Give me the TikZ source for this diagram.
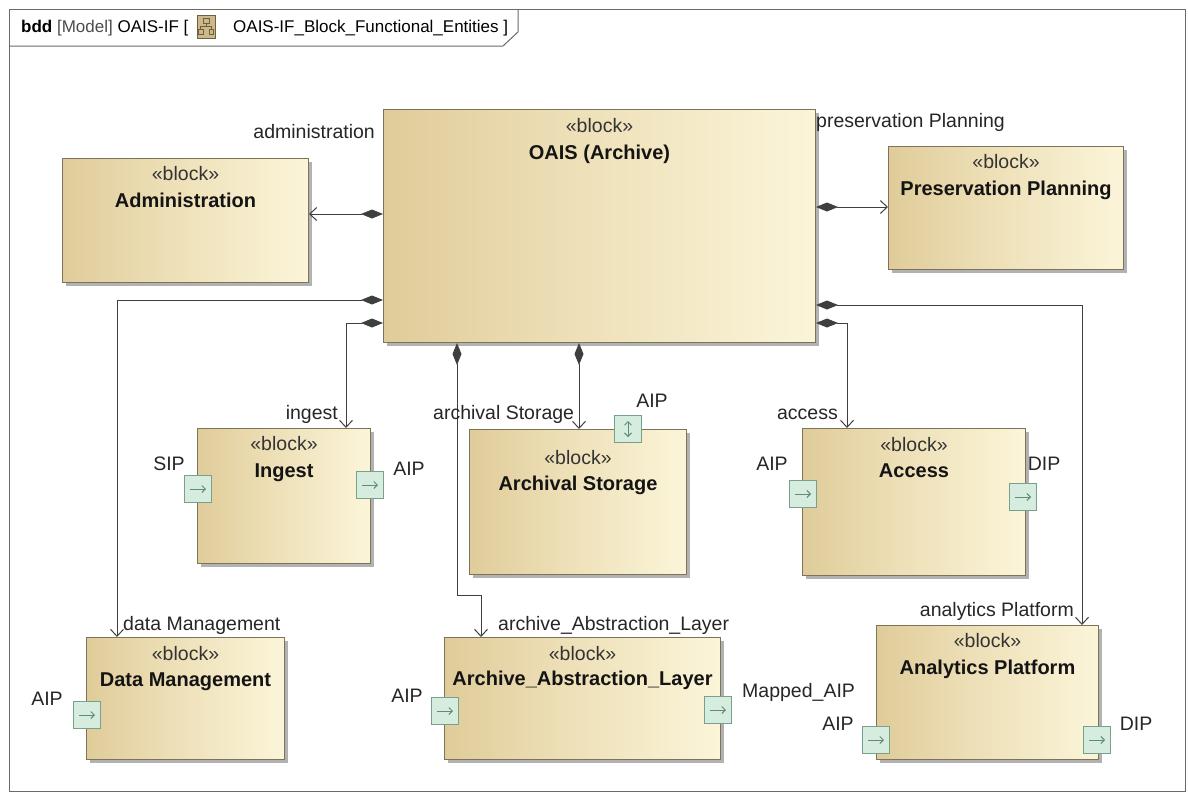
\documentclass[tikz,border=0pt]{standalone}
\usepackage{fontspec}
\setmainfont{Liberation Sans}
\usetikzlibrary{arrows.meta,shadows,calc}
\definecolor{bTan}{HTML}{E0CC9A}
\definecolor{bCream}{HTML}{FBF5D9}
\definecolor{bMid}{HTML}{EFE2BB}
\definecolor{bEdge}{HTML}{7D7358}
\definecolor{pFill}{HTML}{D5ECDF}
\definecolor{pEdge}{HTML}{78A18B}
\definecolor{pArr}{HTML}{5F8C75}
\definecolor{lnCol}{HTML}{3F3F3F}
\definecolor{frCol}{HTML}{6A6A6A}
\definecolor{icoFill}{HTML}{CDB88A}
\definecolor{icoEdge}{HTML}{6E5F40}
\tikzset{
 blk/.style={draw=bEdge, line width=1pt, left color=bTan, right color=bCream, middle color=bMid,
   drop shadow={shadow xshift=3pt,shadow yshift=-3pt,fill=black!30,opacity=1}, anchor=north west, inner sep=0pt},
 stereo/.style={font=\fontsize{19.5}{22}\selectfont, text=black!80, inner sep=0pt, anchor=base},
 bname/.style={font=\fontsize{20}{22}\selectfont\bfseries, text=black!92, inner sep=0pt, anchor=base},
 lbl/.style={font=\fontsize{19.5}{22}\selectfont, text=black!85, inner sep=0pt},
 port/.style={draw=pEdge, fill=pFill, line width=1pt, minimum size=27pt, inner sep=0pt},
 parr/.style={draw=pArr, line width=1pt, -{Straight Barb[length=3.5pt,width=7pt]}},
 comp/.style={draw=lnCol, line width=1pt, {Diamond[length=22pt,width=9pt,fill=lnCol]}-{Straight Barb[length=7pt,width=13pt]}},
 hdr/.style={font=\fontsize{17}{20}\selectfont, inner sep=0pt, anchor=base west},
}
\begin{document}
\begin{tikzpicture}[x=1pt,y=-1pt]
\useasboundingbox (0,0) rectangle (1188,793);
% frame
\draw[draw=frCol, line width=1pt] (9,9) rectangle (1185,791);
\draw[draw=frCol, line width=1pt] (9,46) -- (503,46) -- (518,32) -- (518,9);
\node[hdr] (hdr1) at (21,32) {\textbf{bdd} \textcolor{black!70}{[Model]} OAIS-IF [};
\draw[draw=icoEdge, fill=icoFill, line width=0.8pt] (197,15) rectangle (215,38);
\draw[draw=icoEdge, line width=0.8pt] (203,18) rectangle (209,23) (206,23) -- (206,26) (200.5,26) -- (211.5,26) (200.5,26) -- (200.5,29) (211.5,26) -- (211.5,29) (198.5,29) rectangle (203,34) (209,29) rectangle (213.5,34);
\node[hdr] (hdr2) at (233,32) {OAIS-IF\_Block\_Functional\_Entities ]};

% blocks
\node[blk, minimum width=432pt, minimum height=233pt] (oais) at (383,109) {};
\node[stereo] (oaisS) at ($(oais.north)+(0,23)$) {«block»};
\node[bname] (oaisN) at ($(oais.north)+(0,50)$) {OAIS (Archive)};

\node[blk, minimum width=246pt, minimum height=124pt] (admin) at (62,158) {};
\node[stereo] (adminS) at ($(admin.north)+(0,22)$) {«block»};
\node[bname] (adminN) at ($(admin.north)+(0,49)$) {Administration};

\node[blk, minimum width=235pt, minimum height=123pt] (pp) at (888,146) {};
\node[stereo] (ppS) at ($(pp.north)+(0,22)$) {«block»};
\node[bname] (ppN) at ($(pp.north)+(0,49)$) {Preservation Planning};

\node[blk, minimum width=173pt, minimum height=135pt] (ing) at (197,428) {};
\node[stereo] (ingS) at ($(ing.north)+(0,22)$) {«block»};
\node[bname] (ingN) at ($(ing.north)+(0,49)$) {Ingest};

\node[blk, minimum width=217pt, minimum height=145pt] (as) at (469,429) {};
\node[stereo] (asS) at ($(as.north)+(0,35)$) {«block»};
\node[bname] (asN) at ($(as.north)+(0,61)$) {Archival Storage};

\node[blk, minimum width=223pt, minimum height=147pt] (acc) at (802,428) {};
\node[stereo] (accS) at ($(acc.north)+(0,23)$) {«block»};
\node[bname] (accN) at ($(acc.north)+(0,49)$) {Access};

\node[blk, minimum width=198pt, minimum height=122pt] (dm) at (86,637) {};
\node[stereo] (dmS) at ($(dm.north)+(0,23)$) {«block»};
\node[bname] (dmN) at ($(dm.north)+(0,49)$) {Data Management};

\node[blk, minimum width=276pt, minimum height=122pt] (aal) at (444,637) {};
\node[stereo] (aalS) at ($(aal.north)+(0,23)$) {«block»};
\node[bname] (aalN) at ($(aal.north)+(0,48)$) {Archive\_Abstraction\_Layer};

\node[blk, minimum width=222pt, minimum height=134pt] (ap) at (876,625) {};
\node[stereo] (apS) at ($(ap.north)+(0,22)$) {«block»};
\node[bname] (apN) at ($(ap.north)+(0,49)$) {Analytics Platform};

% connectors
\coordinate (yAdm) at (0,214);
\draw[comp] (oais.west |- yAdm) -- (admin.east |- yAdm);
\coordinate (yPP) at (0,207);
\draw[comp] (oais.east |- yPP) -- (pp.west |- yPP);
\coordinate (yDM) at (0,300);
\coordinate (xDM) at ([xshift=31pt]dm.north west);
\draw[comp] (oais.west |- yDM) -| (xDM);
\coordinate (yIng) at (0,323);
\coordinate (xIng) at ([xshift=149pt]ing.north west);
\draw[comp] (oais.west |- yIng) -| (xIng);
\coordinate (xAS) at (579,0);
\draw[comp] (oais.south -| xAS) -- (as.north -| xAS);
\coordinate (yAcc) at (0,323);
\coordinate (xAcc) at ([xshift=45pt]acc.north west);
\draw[comp] (oais.east |- yAcc) -| (xAcc);
\coordinate (yAP) at (0,305);
\coordinate (xAP) at ([xshift=-17pt]ap.north east);
\draw[comp] (oais.east |- yAP) -| (xAP);
\coordinate (xAALa) at (457,0);
\coordinate (yJog) at (0,595);
\coordinate (xAAL) at ([xshift=37pt]aal.north west);
\draw[comp] (oais.south -| xAALa) -- (xAALa |- yJog) -| (xAAL);

% role labels
\node[lbl, anchor=base east] (lAdm) at (375,138) {administration};
\node[lbl, anchor=base west] (lPP) at (816,127) {preservation Planning};
\node[lbl, anchor=base east] (lIng) at (338,419) {ingest};
\node[lbl, anchor=base west] (lAS) at (433,419) {archival Storage};
\node[lbl, anchor=base east] (lAcc) at (838,419) {access};
\node[lbl, anchor=base west] (lDM) at (123,630) {data Management};
\node[lbl, anchor=base west] (lAAL) at (498,630) {archive\_Abstraction\_Layer};
\node[lbl, anchor=base east] (lAP) at (1074,616) {analytics Platform};

% ports
\node[port] (pIngSIP) at (198,489) {};
\draw[parr] ([xshift=-8pt]pIngSIP.center) -- ([xshift=8pt]pIngSIP.center);
\node[lbl, anchor=base] (lIngSIP) at (169,470) {SIP};
\node[port] (pIngAIP) at (370,485) {};
\draw[parr] ([xshift=-8pt]pIngAIP.center) -- ([xshift=8pt]pIngAIP.center);
\node[lbl, anchor=base] (lIngAIP) at (409,475) {AIP};

\node[port] (pAS) at (628,429) {};
\draw[draw=pArr, line width=1pt, {Straight Barb[length=3.5pt,width=7pt]}-{Straight Barb[length=3.5pt,width=7pt]}] ([yshift=-8pt]pAS.center) -- ([yshift=8pt]pAS.center);
\node[lbl, anchor=base] (lASp) at (652,407) {AIP};

\node[port] (pAccAIP) at (803,494) {};
\draw[parr] ([xshift=-8pt]pAccAIP.center) -- ([xshift=8pt]pAccAIP.center);
\node[lbl, anchor=base] (lAccAIP) at (772,470) {AIP};
\node[port] (pAccDIP) at (1023,497) {};
\draw[parr] ([xshift=-8pt]pAccDIP.center) -- ([xshift=8pt]pAccDIP.center);
\node[lbl, anchor=base] (lAccDIP) at (1044,470) {DIP};

\node[port] (pDM) at (87,715) {};
\draw[parr] ([xshift=-8pt]pDM.center) -- ([xshift=8pt]pDM.center);
\node[lbl, anchor=base] (lDMp) at (47,705) {AIP};

\node[port] (pAALin) at (445,711) {};
\draw[parr] ([xshift=-8pt]pAALin.center) -- ([xshift=8pt]pAALin.center);
\node[lbl, anchor=base] (lAALin) at (407,702) {AIP};
\node[port] (pAALout) at (718,710) {};
\draw[parr] ([xshift=-8pt]pAALout.center) -- ([xshift=8pt]pAALout.center);
\node[lbl, anchor=base west] (lAALout) at (742,697) {Mapped\_AIP};

\node[port] (pAPin) at (876,740) {};
\draw[parr] ([xshift=-8pt]pAPin.center) -- ([xshift=8pt]pAPin.center);
\node[lbl, anchor=base] (lAPin) at (838,730) {AIP};
\node[port] (pAPout) at (1097,740) {};
\draw[parr] ([xshift=-8pt]pAPout.center) -- ([xshift=8pt]pAPout.center);
\node[lbl, anchor=base] (lAPout) at (1136,730) {DIP};
\end{tikzpicture}
\end{document}
